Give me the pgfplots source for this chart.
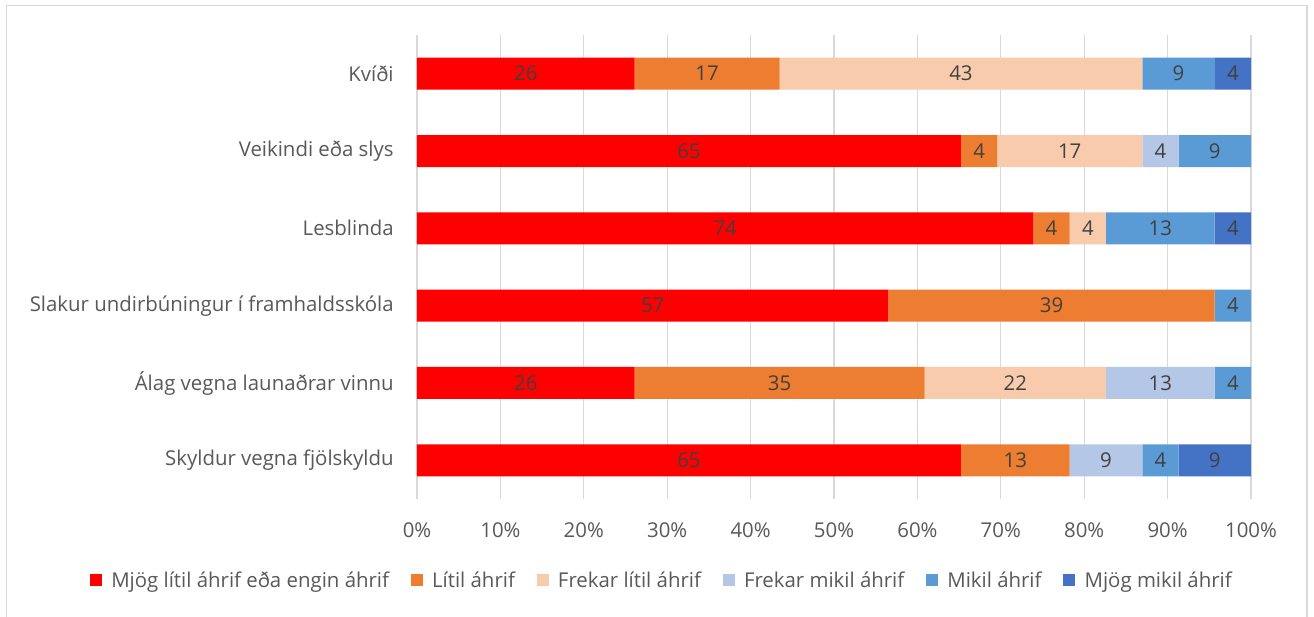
\documentclass[border=0pt]{standalone}
\usepackage{pgfplots}
\pgfplotsset{compat=1.18}
\usepackage{pgfplotstable}
\usepackage{fontspec}
\setmainfont{Open Sans}
\definecolor{cA}{HTML}{FF0000}
\definecolor{cB}{HTML}{ED7D31}
\definecolor{cC}{HTML}{F8CBAD}
\definecolor{cD}{HTML}{B4C7E7}
\definecolor{cE}{HTML}{5B9BD5}
\definecolor{cF}{HTML}{4472C4}
\definecolor{txt}{HTML}{595959}
\definecolor{lbl}{HTML}{404040}
\definecolor{grd}{HTML}{D9D9D9}
\pgfplotstableread{
y a b c d e f
0 65.22 13.04 0 8.70 4.35 8.70
1 26.09 34.78 21.74 13.04 4.35 0
2 56.52 39.13 0 0 4.35 0
3 73.91 4.35 4.35 0 13.04 4.35
4 65.22 4.35 17.39 4.35 8.70 0
5 26.09 17.39 43.48 0 8.70 4.35
}\datatable
\newcommand\fs{\fontsize{15.3}{18}\selectfont}
\pgfplotsset{
  base/.style={
    at={(312.75pt,88.5pt)}, anchor=south west,
    scale only axis, width=625.5pt, height=348pt,
    xmin=0, xmax=100, ymin=-0.5, ymax=5.5,
    /pgf/number format/assume math mode=true,
  },
  lab/.style={only marks, mark=none,
    nodes near coords={\pgfmathfloatifflags{\pgfplotspointmeta}{0}{}{\pgfmathprintnumber[fixed,precision=0,assume math mode=true]{\pgfplotspointmeta}}},
    every node near coord/.append style={font=\fs, text=lbl, anchor=center, inner sep=0pt}},
}
\begin{document}
\begin{tikzpicture}
\useasboundingbox (0,0) rectangle (985.5pt,462.75pt);
\fill[white] (0,0) rectangle (985.5pt,462.75pt);
\draw[grd, line width=1.2pt] (4.9pt,-5pt) -- (4.9pt,458.6pt) -- (980.25pt,458.6pt) -- (980.25pt,-5pt);
\begin{axis}[
  base,
  xbar stacked, bar width=24pt,
  xtick={0,10,...,100},
  xticklabel={\pgfmathprintnumber{\tick}\%},
  ytick={0,1,2,3,4,5},
  yticklabels={Skyldur vegna fjölskyldu,Álag vegna launaðrar vinnu,Slakur undirbúningur í framhaldsskóla,Lesblinda,Veikindi eða slys,Kvíði},
  tick style={draw=none},
  axis line style={draw=none},
  xmajorgrids, major grid style={grd, line width=1pt},
  ticklabel style={font=\fs, text=txt},
  xticklabel style={yshift=-14pt},
  yticklabel style={xshift=-14pt},
  legend columns=6,
  legend style={at={(0.294,-0.175)}, anchor=center, draw=none, fill=none,
    font=\fs, text=txt,
    /tikz/every odd column/.append style={column sep=5pt},
    /tikz/every even column/.append style={column sep=14.3pt}},
  legend image code/.code={\fill[#1] (0pt,-4.5pt) rectangle (9pt,4.5pt);},
]
\addplot[fill=cA, draw=none] table[x=a, y=y] {\datatable};
\addplot[fill=cB, draw=none] table[x=b, y=y] {\datatable};
\addplot[fill=cC, draw=none] table[x=c, y=y] {\datatable};
\addplot[fill=cD, draw=none] table[x=d, y=y] {\datatable};
\addplot[fill=cE, draw=none] table[x=e, y=y] {\datatable};
\addplot[fill=cF, draw=none] table[x=f, y=y] {\datatable};
\legend{Mjög lítil áhrif eða engin áhrif,Lítil áhrif,Frekar lítil áhrif,Frekar mikil áhrif,Mikil áhrif,Mjög mikil áhrif}
\end{axis}
\begin{axis}[base, hide axis]
\addplot[lab, point meta=\thisrow{a}] table[x expr={\thisrow{a}/2}, y=y] {\datatable};
\addplot[lab, point meta=\thisrow{b}] table[x expr={\thisrow{a}+\thisrow{b}/2}, y=y] {\datatable};
\addplot[lab, point meta=\thisrow{c}] table[x expr={\thisrow{a}+\thisrow{b}+\thisrow{c}/2}, y=y] {\datatable};
\addplot[lab, point meta=\thisrow{d}] table[x expr={\thisrow{a}+\thisrow{b}+\thisrow{c}+\thisrow{d}/2}, y=y] {\datatable};
\addplot[lab, point meta=\thisrow{e}] table[x expr={\thisrow{a}+\thisrow{b}+\thisrow{c}+\thisrow{d}+\thisrow{e}/2}, y=y] {\datatable};
\addplot[lab, point meta=\thisrow{f}] table[x expr={\thisrow{a}+\thisrow{b}+\thisrow{c}+\thisrow{d}+\thisrow{e}+\thisrow{f}/2}, y=y] {\datatable};
\end{axis}
\end{tikzpicture}
\end{document}
